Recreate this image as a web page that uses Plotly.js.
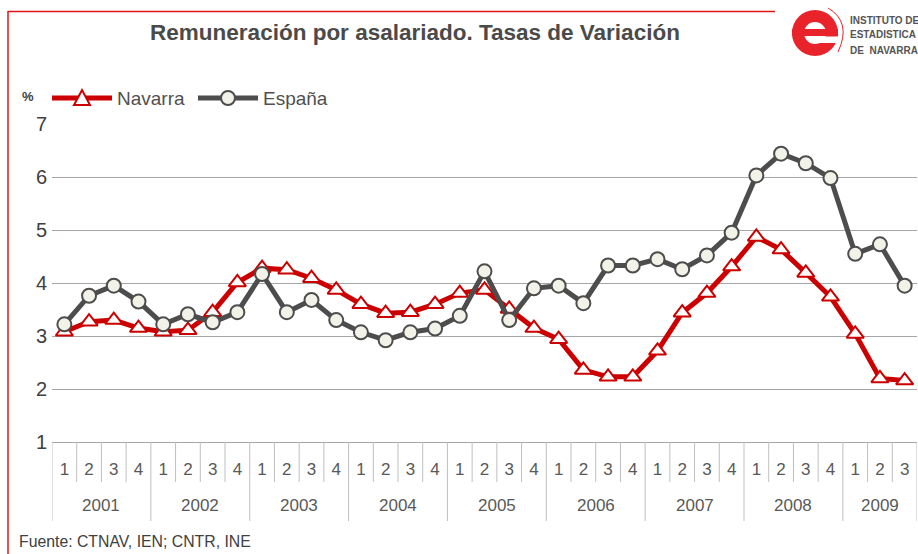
<!DOCTYPE html>
<html>
<head>
<meta charset="utf-8">
<script src="https://cdn.plot.ly/plotly-3.0.1.min.js"></script>
<style>html,body{margin:0;padding:0;background:#fff;}#chart{width:918px;height:554px;}</style>
</head>
<body>
<div id="chart"></div>
<script>
// Categories
const yearLabels = ['2001','2001','2001','2001','2002','2002','2002','2002','2003','2003','2003','2003',
  '2004','2004','2004','2004','2005','2005','2005','2005','2006','2006','2006','2006',
  '2007','2007','2007','2007','2008','2008','2008','2008','2009','2009','2009'];
const quarterLabels = ['1','2','3','4','1','2','3','4','1','2','3','4',
  '1','2','3','4','1','2','3','4','1','2','3','4',
  '1','2','3','4','1','2','3','4','1','2','3'];
const years = ['2001','2002','2003','2004','2005','2006','2007','2008','2009'];

// Series (% variation)
const navarra = [3.08,3.27,3.30,3.15, 3.08,3.11,3.45,4.01, 4.28,4.25,4.09,3.87,
  3.60,3.43,3.45,3.60, 3.81,3.87,3.51,3.15, 2.94,2.36,2.23,2.23,
  2.72,3.44,3.81,4.31, 4.87,4.63,4.19,3.74, 3.04,2.20,2.16];
const espana = [3.22,3.76,3.95,3.65, 3.22,3.41,3.26,3.45, 4.17,3.45,3.68,3.30,
  3.07,2.92,3.07,3.14, 3.38,4.22,3.30,3.90, 3.95,3.62,4.33,4.33,
  4.45,4.26,4.52,4.95, 6.03,6.44,6.26,5.98, 4.55,4.73,3.95];

const seriesNames = ['Navarra','España'];
const chartTitle = 'Remuneración por asalariado. Tasas de Variación';
const sourceText = 'Fuente: CTNAV, IEN; CNTR, INE';

// geometry helpers (pixel -> paper)
const W = 918, H = 554, L = 52, R = 1, T = 124, B = 112;
const PW = W - L - R, PH = H - T - B;
const px = v => (v - L) / PW;
const py = v => (H - B - v) / PH;

const FONT = 'Liberation Sans, Arial, sans-serif';
const RED = '#cc0000', GRAY = '#4d4d4d', CIRC = '#f2f2e8';
const cats = yearLabels.map((y, i) => y + '-' + quarterLabels[i]);

const traces = [
  {
    x: cats, y: navarra, name: seriesNames[0], type: 'scatter', mode: 'lines+markers',
    line: {color: RED, width: 5},
    marker: {symbol: 'triangle-up', size: 15, color: '#ffffff', line: {color: RED, width: 2}}
  },
  {
    x: cats, y: espana, name: seriesNames[1], type: 'scatter', mode: 'lines+markers',
    line: {color: GRAY, width: 5},
    marker: {symbol: 'circle', size: 14, color: CIRC, line: {color: GRAY, width: 2}}
  }
];

const shapes = [
  // red frame
  {type: 'line', xref: 'paper', yref: 'paper', x0: px(8), x1: px(8), y0: py(11), y1: py(560),
   line: {color: '#e01515', width: 1.5}},
  {type: 'line', xref: 'paper', yref: 'paper', x0: px(8), x1: px(775), y0: py(11.5), y1: py(11.5),
   line: {color: '#e01515', width: 1.5}},
  // custom legend: Navarra
  {type: 'line', xref: 'paper', yref: 'paper', x0: px(52), x1: px(112), y0: py(98), y1: py(98),
   line: {color: RED, width: 5}},
  {type: 'path', xref: 'paper', yref: 'paper',
   path: `M ${px(74)} ${py(105)} L ${px(90)} ${py(105)} L ${px(82)} ${py(90)} Z`,
   fillcolor: '#ffffff', line: {color: RED, width: 2}},
  // custom legend: España
  {type: 'line', xref: 'paper', yref: 'paper', x0: px(198), x1: px(258), y0: py(98), y1: py(98),
   line: {color: GRAY, width: 5}},
  {type: 'circle', xref: 'paper', yref: 'paper', x0: px(221), x1: px(235), y0: py(91), y1: py(105),
   fillcolor: CIRC, line: {color: GRAY, width: 2}},
  // logo "e"
  {type: 'circle', xref: 'paper', yref: 'paper', x0: px(798), x1: px(832), y0: py(16), y1: py(50),
   line: {color: '#e8242a', width: 12}},
  {type: 'rect', xref: 'paper', yref: 'paper', x0: px(792), x1: px(838), y0: py(29), y1: py(36),
   fillcolor: '#e8242a', line: {width: 0}},
  {type: 'rect', xref: 'paper', yref: 'paper', x0: px(816), x1: px(842), y0: py(36.5), y1: py(43),
   fillcolor: '#ffffff', line: {width: 0}},
  {type: 'path', xref: 'paper', yref: 'paper',
   path: `M ${px(828)} ${py(8)} Q ${px(852)} ${py(22)} ${px(838)} ${py(52)}`,
   line: {color: '#e8242a', width: 1}}
];

// quarter separators and year dividers (category boundaries)
for (let i = 0; i <= cats.length; i++) {
  const isYear = (i % 4 === 0) || i === cats.length;
  shapes.push({type: 'line', xref: 'x', yref: 'paper', x0: i - 0.5, x1: i - 0.5,
    y0: py(442), y1: py(isYear ? 521 : 482), line: {color: '#bfbfbf', width: 1}});
}

const annotations = [
  {text: '%', xref: 'paper', yref: 'paper', x: px(28), y: py(97), showarrow: false,
   xanchor: 'center', yanchor: 'middle', font: {family: FONT, size: 13, color: '#404040', weight: 'bold'}},
  {text: seriesNames[0], xref: 'paper', yref: 'paper', x: px(115), y: py(98), showarrow: false,
   xanchor: 'left', yanchor: 'middle', font: {family: FONT, size: 19, color: '#505050'}},
  {text: seriesNames[1], xref: 'paper', yref: 'paper', x: px(261), y: py(98), showarrow: false,
   xanchor: 'left', yanchor: 'middle', font: {family: FONT, size: 19, color: '#505050'}},
  {text: sourceText, xref: 'paper', yref: 'paper', x: px(17), y: py(541), showarrow: false,
   xanchor: 'left', yanchor: 'middle', font: {family: FONT, size: 15.8, color: '#404040'}},
  {text: 'INSTITUTO DE', xref: 'paper', yref: 'paper', x: px(848), y: py(20), showarrow: false,
   xanchor: 'left', yanchor: 'middle', font: {family: FONT, size: 10, color: '#555555', weight: 'bold'}},
  {text: 'ESTADISTICA', xref: 'paper', yref: 'paper', x: px(848), y: py(35), showarrow: false,
   xanchor: 'left', yanchor: 'middle', font: {family: FONT, size: 10, color: '#555555', weight: 'bold'}},
  {text: 'DE  NAVARRA', xref: 'paper', yref: 'paper', x: px(848), y: py(50), showarrow: false,
   xanchor: 'left', yanchor: 'middle', font: {family: FONT, size: 10, color: '#555555', weight: 'bold'}}
];
years.forEach((yr, k) => {
  const n = yearLabels.filter(v => v === yr).length;
  annotations.push({text: yr, xref: 'x', yref: 'paper', x: k * 4 + (n - 1) / 2, y: py(505),
    showarrow: false, xanchor: 'center', yanchor: 'middle',
    font: {family: FONT, size: 17, color: '#595959'}});
});

const layout = {
  width: W, height: H,
  margin: {l: L, r: R, t: T, b: B, pad: 0},
  paper_bgcolor: '#ffffff', plot_bgcolor: '#ffffff',
  font: {family: FONT, color: '#595959'},
  title: {text: chartTitle, font: {family: FONT, size: 22.5, color: '#4a4a4a', weight: 'bold'},
          x: px(415), xref: 'paper', xanchor: 'center', y: 1 - 32 / H, yanchor: 'middle'},
  showlegend: false,
  xaxis: {
    type: 'category', range: [-0.5, cats.length - 0.5],
    tickvals: cats, ticktext: quarterLabels,
    showline: true, linecolor: '#a6a6a6', linewidth: 1,
    showgrid: false, zeroline: false, ticks: '',
    ticklabelstandoff: 12,
    tickfont: {family: FONT, size: 17, color: '#595959'},
    fixedrange: true
  },
  yaxis: {
    range: [1, 7], dtick: 1, tick0: 1,
    showgrid: true, gridcolor: '#a6a6a6', gridwidth: 1,
    zeroline: false, showline: false, ticks: '',
    tickfont: {family: FONT, size: 20, color: '#404040'},
    ticklabelstandoff: 4,
    fixedrange: true
  },
  shapes: shapes,
  annotations: annotations
};

Plotly.newPlot('chart', traces, layout, {displayModeBar: false, staticPlot: true});
</script>
</body>
</html>
